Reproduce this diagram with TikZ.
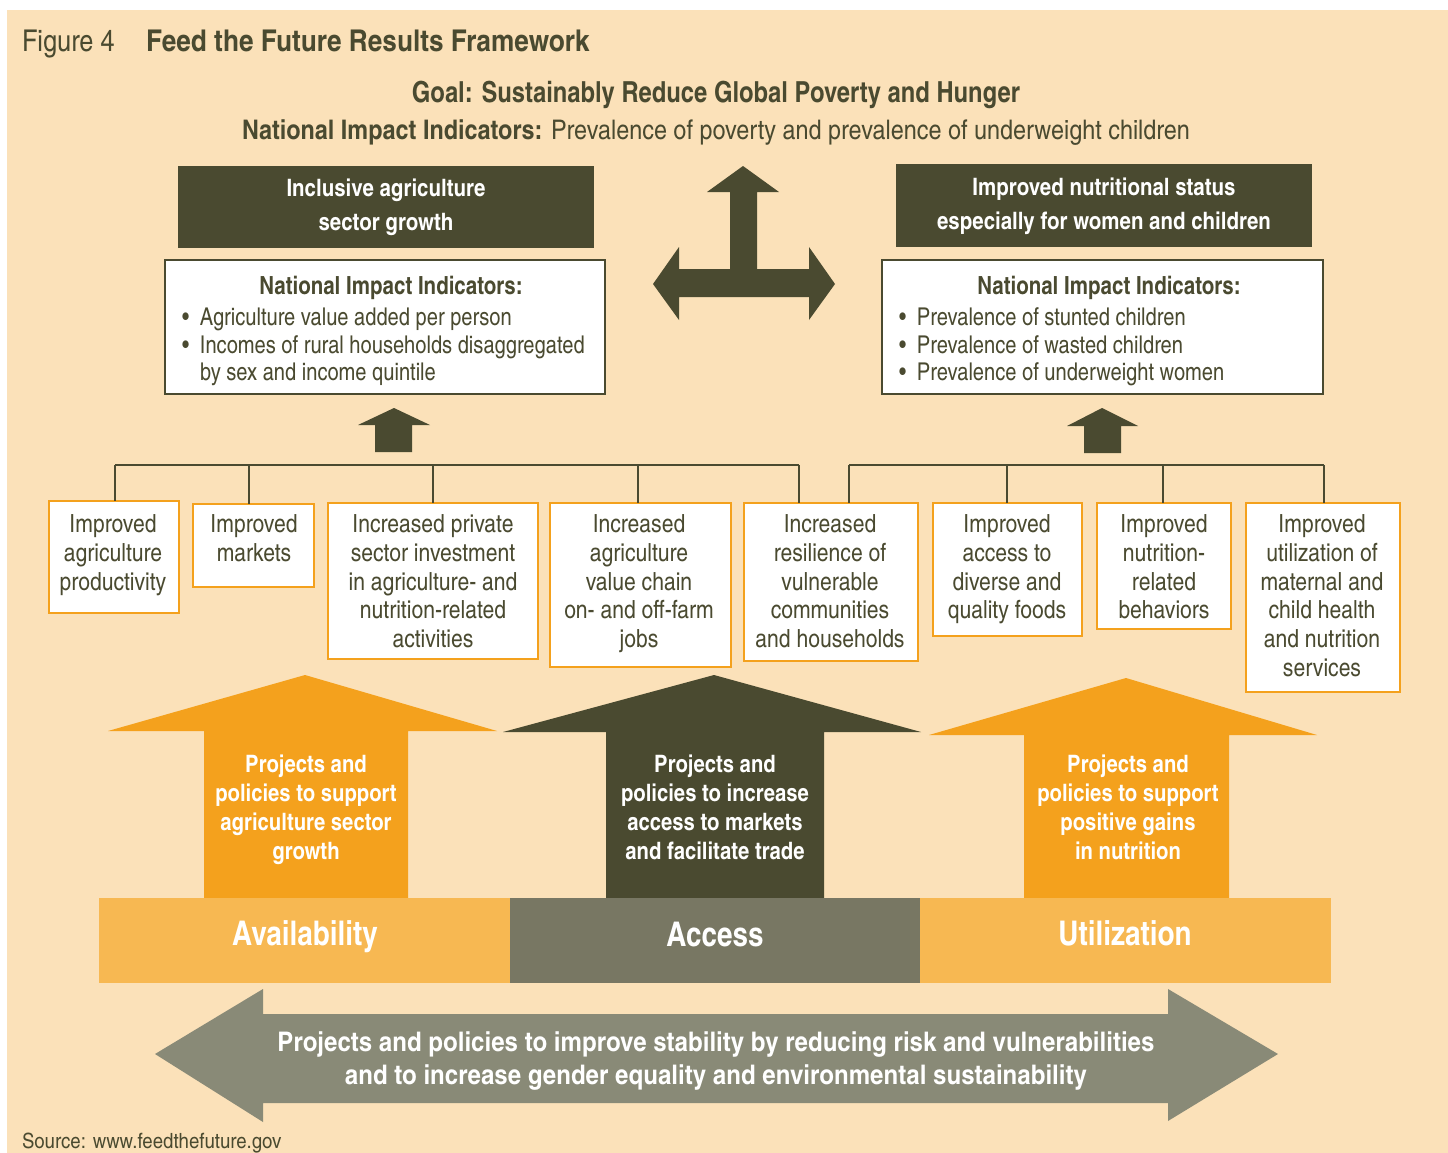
\documentclass[tikz,border=0pt]{standalone}
\usepackage{fontspec}
\setmainfont{texgyreheroscn}[Extension=.otf,UprightFont=*-regular,BoldFont=*-bold]
\newcommand{\wider}[1]{\addfontfeatures{FakeStretch=#1}}
\definecolor{peach}{HTML}{FBE1B9}
\definecolor{olive}{HTML}{4A4A30}
\definecolor{orangeA}{HTML}{F4A11D}
\definecolor{orangeL}{HTML}{F7B852}
\definecolor{accgray}{HTML}{787763}
\definecolor{stabgray}{HTML}{898A77}
\begin{document}
\begin{tikzpicture}[x=1pt,y=-1pt,
  every node/.style={inner sep=0pt,outer sep=0pt},
  resultbox/.style={draw=orangeA,line width=2.8pt,fill=white,anchor=north west},
  resulttext/.style={align=center,text=olive,text depth=0pt,font=\fontsize{25}{28.8}\selectfont\wider{1.03}},
  goalbox/.style={fill=olive,anchor=north west,align=center,text=white,text depth=4pt,font=\bfseries\fontsize{24}{34}\selectfont\wider{1.04}},
  indbox/.style={draw=olive,line width=2.5pt,fill=white,anchor=north west},
  indtitle/.style={text=olive,text depth=0pt,font=\bfseries\fontsize{25}{28}\selectfont},
  indlist/.style={align=left,text=olive,text depth=0pt,anchor=west,font=\fontsize{24.5}{27.5}\selectfont},
  tree/.style={draw=olive,line width=2pt},
  arrowtext/.style={align=center,text=white,text depth=0pt,font=\bfseries\fontsize{24}{29}\selectfont\wider{1.03}},
  pillar/.style={anchor=north west,minimum height=85pt},
  pillartext/.style={text=white,text depth=0pt,font=\bfseries\fontsize{34}{38}\selectfont}
]
\useasboundingbox (0,0) rectangle (1448,1153);
\fill[white] (0,0) rectangle (1448,1153);
\fill[peach] (7,10) rectangle (1448,1153);

% heading
\node[anchor=base west,text=olive,font=\fontsize{30}{34}\selectfont\wider{1.03}] (fig) at (22,52) {Figure 4};
\node[anchor=base west,text=olive,font=\bfseries\fontsize{30}{34}\selectfont\wider{1.065}] (title) at (146,52) {Feed the Future Results Framework};
\node[text=olive,text depth=0pt,font=\bfseries\fontsize{29}{34}\selectfont] (goal) at (716,92) {Goal: Sustainably Reduce Global Poverty and Hunger};
\node[text=olive,text depth=0pt,font=\fontsize{27}{32}\selectfont\wider{1.057}] (natl) at (716,130) {\textbf{National Impact Indicators:} Prevalence of poverty and prevalence of underweight children};

% two top-level objectives
\node[goalbox,minimum width=416pt,minimum height=82pt] (agr) at (178,166) {Inclusive agriculture\\sector growth};
\node[goalbox,minimum width=416pt,minimum height=83pt] (nut) at (896,164) {Improved nutritional status\\especially for women and children};

% indicator boxes
\node[indbox,minimum width=440pt,minimum height=134pt] (indL) at (165,260) {};
\node[indtitle] (indLt) at (391,285) {National Impact Indicators:};
\node[indlist] (indLl) at (179,344.5) {\makebox[21pt][l]{\hspace{3pt}\textbullet}Agriculture value added per person\\
\makebox[21pt][l]{\hspace{3pt}\textbullet}Incomes of rural households disaggregated\\
\makebox[21pt][l]{}by sex and income quintile};

\node[indbox,minimum width=441pt,minimum height=134pt] (indR) at (882,260) {};
\node[indtitle] (indRt) at (1109,285) {National Impact Indicators:};
\node[indlist] (indRl) at (896,344.5) {\makebox[21pt][l]{\hspace{3pt}\textbullet}Prevalence of stunted children\\
\makebox[21pt][l]{\hspace{3pt}\textbullet}Prevalence of wasted children\\
\makebox[21pt][l]{\hspace{3pt}\textbullet}Prevalence of underweight women};

% three-way arrow between the objectives
\fill[olive] (743,166) -- (779,192) -- (757,192) -- (757,269) -- (809,269) -- (809,247)
  -- (835,284) -- (809,320) -- (809,297) -- (679,297) -- (679,320) -- (653,284)
  -- (679,247) -- (679,269) -- (730,269) -- (730,192) -- (707,192) -- cycle;

% small upward arrows
\fill[olive] (394,408) -- (430,425) -- (412,425) -- (412,452) -- (375,452) -- (375,425) -- (358,425) -- cycle;
\fill[olive] (1102,408) -- (1138,426) -- (1121,426) -- (1121,453) -- (1084,453) -- (1084,426) -- (1067,426) -- cycle;

% intermediate results
\node[resultbox,minimum width=130pt,minimum height=112pt] (b1) at (49,501) {};
\node[resultbox,minimum width=121pt,minimum height=83pt] (b2) at (193,504) {};
\node[resultbox,minimum width=210pt,minimum height=156pt] (b3) at (328,503) {};
\node[resultbox,minimum width=181pt,minimum height=164pt] (b4) at (550,503) {};
\node[resultbox,minimum width=174pt,minimum height=158pt] (b5) at (744,503) {};
\node[resultbox,minimum width=149pt,minimum height=133pt] (b6) at (933,503) {};
\node[resultbox,minimum width=134pt,minimum height=126pt] (b7) at (1097,503) {};
\node[resultbox,minimum width=154pt,minimum height=189pt] (b8) at (1246,503) {};

\node[resulttext] (t1) at (113,552.3) {Improved\\agriculture\\productivity};
\node[resulttext] (t2) at (254,537.9) {Improved\\markets};
\node[resulttext] (t3) at (433,581.1) {Increased private\\sector investment\\in agriculture- and\\nutrition-related\\activities};
\node[resulttext] (t4) at (639,581.1) {Increased\\agriculture\\value chain\\on- and off-farm\\jobs};
\node[resulttext] (t5) at (830,581.1) {Increased\\resilience of\\vulnerable\\communities\\and households};
\node[resulttext] (t6) at (1007,566.7) {Improved\\access to\\diverse and\\quality foods};
\node[resulttext] (t7) at (1164,566.7) {Improved\\nutrition-\\related\\behaviors};
\node[resulttext] (t8) at (1322,595.5) {Improved\\utilization of\\maternal and\\child health\\and nutrition\\services};

% connecting brackets
\coordinate (l1) at (115,465);
\coordinate (l2) at (249,465);
\coordinate (l3) at (433,465);
\coordinate (l4) at (638,465);
\coordinate (l5) at (799,465);
\coordinate (r5) at (849,465);
\coordinate (r6) at (1007,465);
\coordinate (r7) at (1163,465);
\coordinate (r8) at (1324,465);
\draw[tree] (l1) -- (l5);
\draw[tree] (r5) -- (r8);
\draw[tree] (l1) -- (l1 |- b1.north);
\draw[tree] (l2) -- (l2 |- b2.north);
\draw[tree] (l3) -- (l3 |- b3.north);
\draw[tree] (l4) -- (l4 |- b4.north);
\draw[tree] (l5) -- (l5 |- b5.north);
\draw[tree] (r5) -- (r5 |- b5.north);
\draw[tree] (r6) -- (r6 |- b6.north);
\draw[tree] (r7) -- (r7 |- b7.north);
\draw[tree] (r8) -- (r8 |- b8.north);

% big upward arrows
\fill[orangeA] (305,675) -- (497,731) -- (408,731) -- (408,898) -- (204,898) -- (204,731) -- (108,731) -- cycle;
\fill[olive] (714,675) -- (921,732) -- (824,732) -- (824,898) -- (606,898) -- (606,732) -- (503,732) -- cycle;
\fill[orangeA] (1126,678) -- (1317,735) -- (1229,735) -- (1229,898) -- (1024,898) -- (1024,735) -- (929,735) -- cycle;

\node[arrowtext] (a1) at (306,807.5) {Projects and\\policies to support\\agriculture sector\\growth};
\node[arrowtext] (a2) at (715,807.5) {Projects and\\policies to increase\\access to markets\\and facilitate trade};
\node[arrowtext] (a3) at (1128,807.5) {Projects and\\policies to support\\positive gains\\in nutrition};

% pillars
\node[pillar,fill=orangeL,minimum width=411pt] (avail) at (99,898) {};
\node[pillar,fill=accgray,minimum width=410pt] (access) at (510,898) {};
\node[pillar,fill=orangeL,minimum width=411pt] (util) at (920,898) {};
\node[pillartext] (availt) at (305,933) {Availability};
\node[pillartext] (accesst) at (715,934) {Access};
\node[pillartext] (utilt) at (1125,933) {Utilization};

% stability arrow
\fill[stabgray] (155,1054) -- (263,989) -- (263,1014) -- (1168,1014) -- (1168,989) -- (1278,1054)
  -- (1168,1121) -- (1168,1103) -- (263,1103) -- (263,1122) -- cycle;
\node[align=center,text=white,text depth=0pt,font=\bfseries\fontsize{27}{33}\selectfont\wider{1.087}] (stab) at (716,1058.5)
  {Projects and policies to improve stability by reducing risk and vulnerabilities\\and to increase gender equality and environmental sustainability};

\node[anchor=base west,text=olive,font=\fontsize{21}{24}\selectfont\wider{1.08}] (src) at (22,1148) {Source: www.feedthefuture.gov};
\end{tikzpicture}
\end{document}
